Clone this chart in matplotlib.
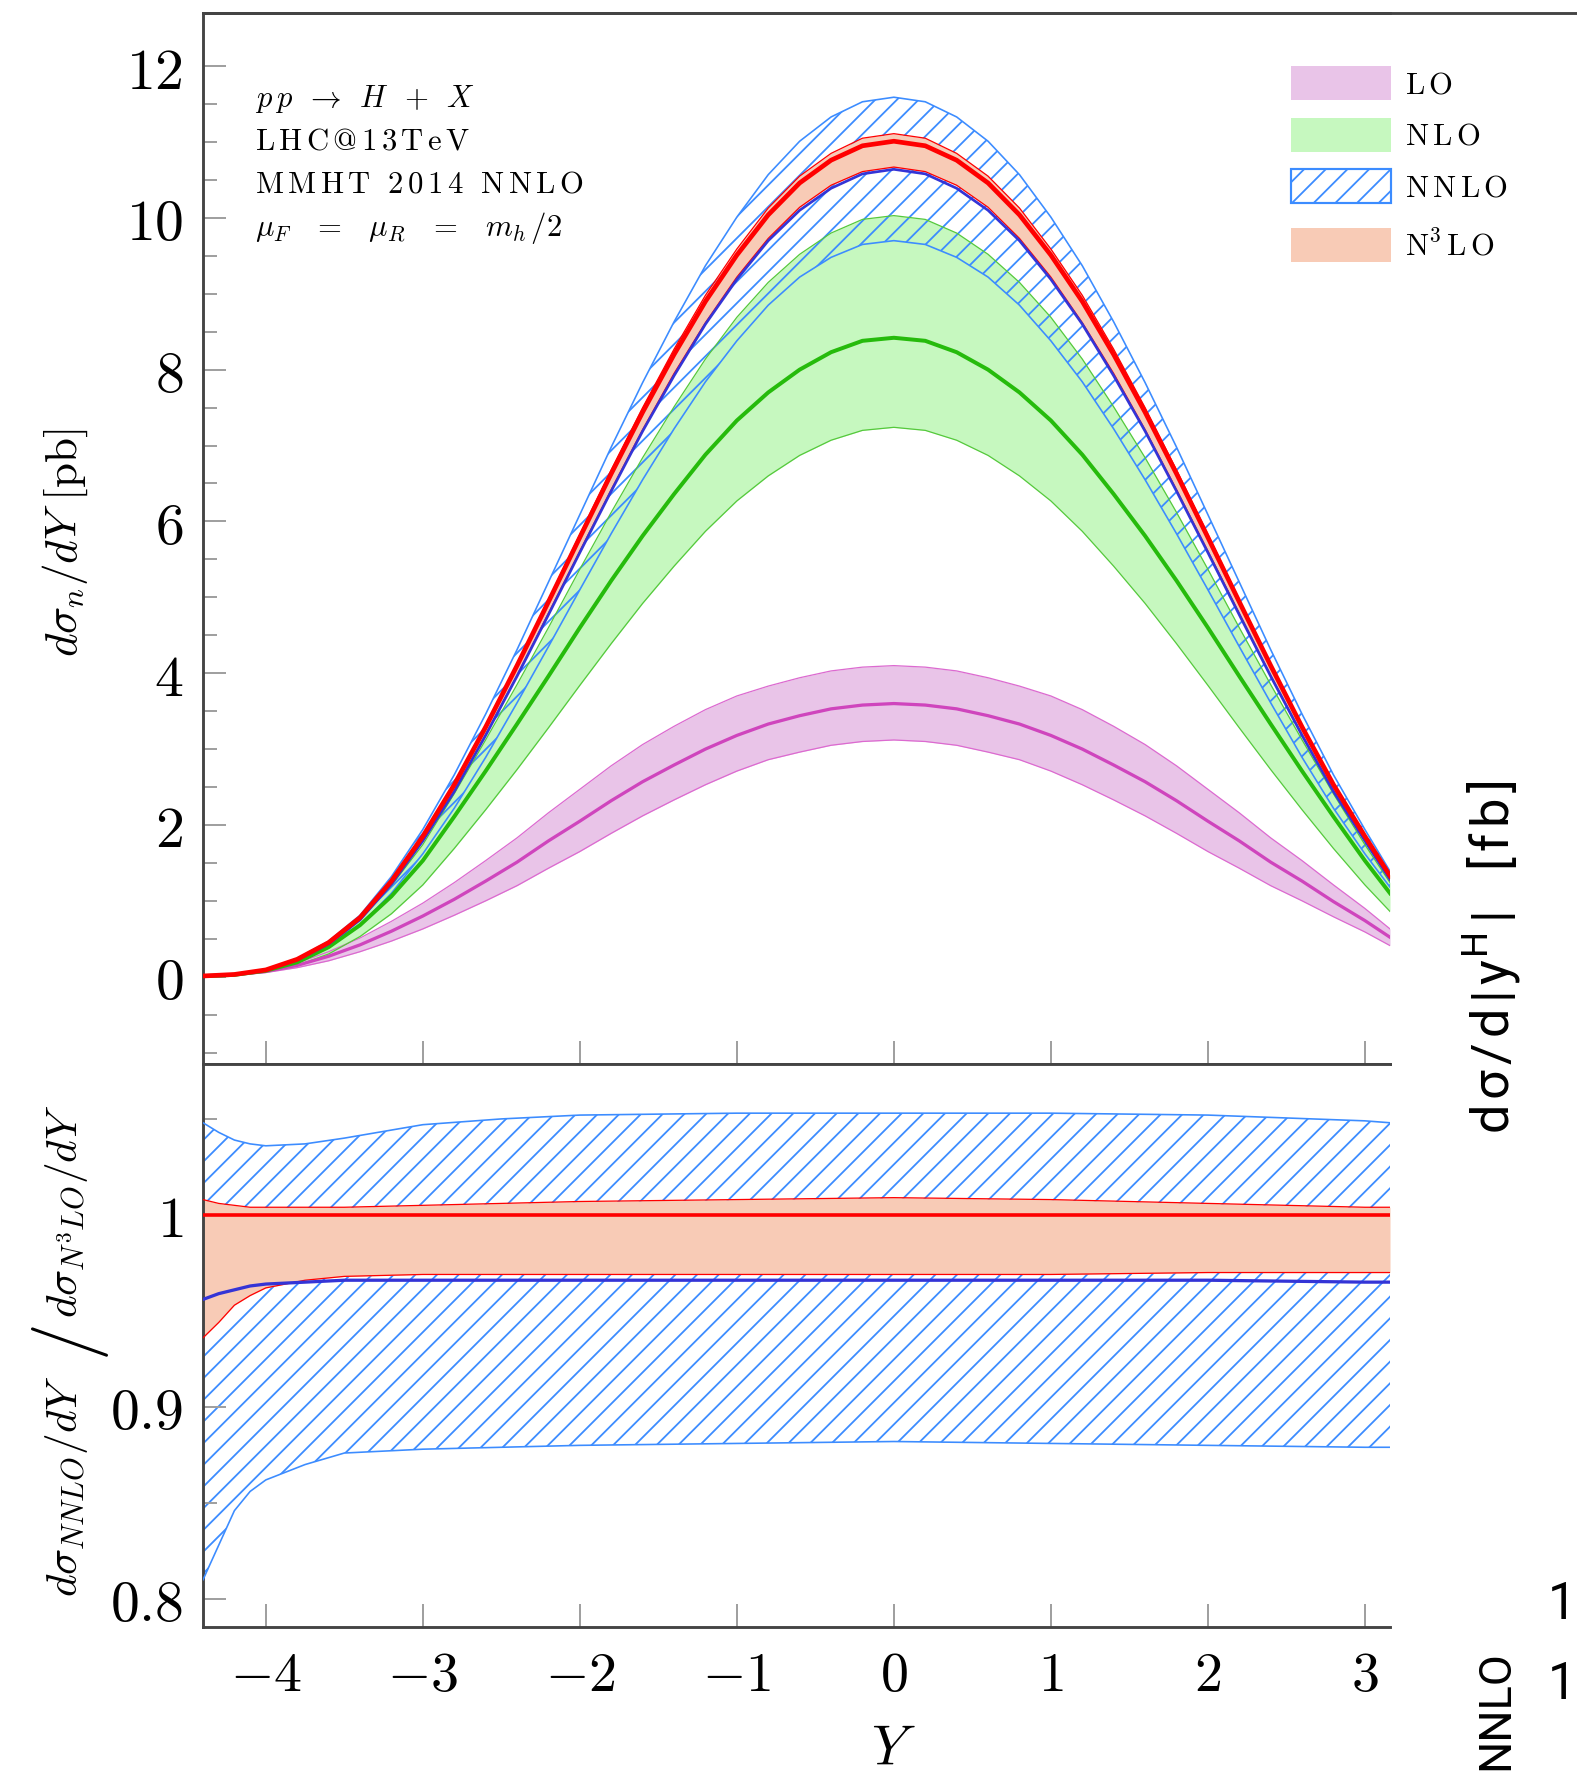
import matplotlib.pyplot as plt
from matplotlib.patches import Patch
from matplotlib.lines import Line2D

plt.rcParams['mathtext.fontset'] = 'cm'
plt.rcParams['hatch.linewidth'] = 1.0
plt.rcParams['hatch.color'] = '#3c8cff'

# ---- upper panel: d sigma / dY [pb] ----
y_top = [-4.4, -4.2, -4.0, -3.8, -3.6, -3.4, -3.2, -3.0, -2.8, -2.6, -2.4, -2.2, -2.0, -1.8, -1.6, -1.4,
         -1.2, -1.0, -0.8, -0.6, -0.4, -0.2, 0.0, 0.2, 0.4, 0.6, 0.8, 1.0, 1.2, 1.4, 1.6, 1.8, 2.0, 2.2,
         2.4, 2.6, 2.8, 3.0, 3.16]

lo_c = [0.006, 0.025, 0.07, 0.15, 0.27, 0.42, 0.60, 0.80, 1.02, 1.26, 1.51, 1.79, 2.05, 2.32, 2.57, 2.79,
        3.00, 3.18, 3.33, 3.44, 3.53, 3.58, 3.60, 3.58, 3.53, 3.44, 3.33, 3.18, 3.00, 2.79, 2.57, 2.32,
        2.05, 1.79, 1.51, 1.26, 0.99, 0.74, 0.52]
lo_up = [0.007, 0.03, 0.085, 0.18, 0.33, 0.51, 0.73, 0.97, 1.24, 1.53, 1.83, 2.16, 2.47, 2.78, 3.06, 3.30,
         3.52, 3.70, 3.83, 3.94, 4.03, 4.08, 4.10, 4.08, 4.03, 3.94, 3.83, 3.70, 3.52, 3.30, 3.06, 2.78,
         2.47, 2.16, 1.83, 1.53, 1.21, 0.90, 0.63]
lo_lo = [0.005, 0.02, 0.055, 0.12, 0.21, 0.33, 0.47, 0.63, 0.81, 1.00, 1.20, 1.43, 1.65, 1.89, 2.12, 2.33,
         2.53, 2.71, 2.86, 2.96, 3.05, 3.10, 3.12, 3.10, 3.05, 2.96, 2.86, 2.71, 2.53, 2.33, 2.12, 1.89,
         1.65, 1.43, 1.20, 1.00, 0.79, 0.59, 0.41]

nlo_c = [0.008, 0.025, 0.08, 0.19, 0.39, 0.68, 1.06, 1.53, 2.11, 2.71, 3.33, 3.96, 4.60, 5.22, 5.81, 6.36,
         6.88, 7.33, 7.70, 8.00, 8.23, 8.38, 8.42, 8.38, 8.23, 8.00, 7.70, 7.33, 6.88, 6.36, 5.81, 5.22,
         4.60, 3.96, 3.33, 2.71, 2.11, 1.53, 1.10]
nlo_up = [0.009, 0.028, 0.09, 0.21, 0.44, 0.77, 1.20, 1.74, 2.41, 3.12, 3.85, 4.60, 5.37, 6.12, 6.84, 7.51,
          8.14, 8.69, 9.15, 9.52, 9.80, 9.98, 10.03, 9.98, 9.80, 9.52, 9.15, 8.69, 8.14, 7.51, 6.84, 6.12,
          5.37, 4.60, 3.85, 3.12, 2.41, 1.74, 1.24]
nlo_lo = [0.006, 0.02, 0.063, 0.15, 0.30, 0.53, 0.83, 1.21, 1.69, 2.20, 2.73, 3.28, 3.84, 4.39, 4.92, 5.41,
          5.87, 6.27, 6.60, 6.87, 7.07, 7.20, 7.24, 7.20, 7.07, 6.87, 6.60, 6.27, 5.87, 5.41, 4.92, 4.39,
          3.84, 3.28, 2.73, 2.20, 1.69, 1.21, 0.86]

nnlo_c = [0.01, 0.03, 0.086, 0.22, 0.43, 0.75, 1.22, 1.79, 2.44, 3.18, 3.96, 4.77, 5.59, 6.40, 7.19, 7.92,
          8.60, 9.19, 9.70, 10.10, 10.39, 10.58, 10.64, 10.58, 10.39, 10.10, 9.70, 9.19, 8.60, 7.92, 7.19,
          6.40, 5.59, 4.77, 3.96, 3.18, 2.44, 1.79, 1.28]
nnlo_up = [0.01, 0.03, 0.093, 0.24, 0.47, 0.81, 1.32, 1.94, 2.66, 3.46, 4.31, 5.20, 6.09, 6.98, 7.83, 8.63,
           9.37, 10.01, 10.57, 11.01, 11.33, 11.53, 11.59, 11.53, 11.33, 11.01, 10.57, 10.01, 9.37, 8.63,
           7.83, 6.98, 6.09, 5.20, 4.31, 3.46, 2.66, 1.94, 1.39]
nnlo_lo = [0.008, 0.025, 0.077, 0.20, 0.39, 0.68, 1.10, 1.62, 2.22, 2.89, 3.61, 4.35, 5.10, 5.84, 6.55, 7.22,
           7.84, 8.38, 8.85, 9.22, 9.48, 9.65, 9.70, 9.65, 9.48, 9.22, 8.85, 8.38, 7.84, 7.22, 6.55, 5.84,
           5.10, 4.35, 3.61, 2.89, 2.22, 1.62, 1.18]

n3lo_c = [0.01, 0.03, 0.09, 0.23, 0.45, 0.78, 1.26, 1.85, 2.53, 3.29, 4.10, 4.94, 5.79, 6.63, 7.44, 8.20,
          8.90, 9.51, 10.04, 10.46, 10.76, 10.95, 11.01, 10.95, 10.76, 10.46, 10.04, 9.51, 8.90, 8.20, 7.44,
          6.63, 5.79, 4.94, 4.10, 3.29, 2.53, 1.85, 1.33]
n3lo_up = [0.01, 0.03, 0.09, 0.23, 0.45, 0.78, 1.27, 1.86, 2.54, 3.31, 4.12, 4.97, 5.83, 6.68, 7.50, 8.27,
           8.98, 9.59, 10.13, 10.55, 10.85, 11.05, 11.11, 11.05, 10.85, 10.55, 10.13, 9.59, 8.98, 8.27, 7.50,
           6.68, 5.83, 4.97, 4.12, 3.31, 2.54, 1.86, 1.34]
n3lo_lo = [0.01, 0.03, 0.086, 0.22, 0.44, 0.76, 1.22, 1.79, 2.45, 3.19, 3.97, 4.79, 5.61, 6.42, 7.21, 7.95,
           8.62, 9.22, 9.73, 10.14, 10.43, 10.61, 10.67, 10.61, 10.43, 10.14, 9.73, 9.22, 8.62, 7.95, 7.21,
           6.42, 5.61, 4.79, 3.97, 3.19, 2.45, 1.79, 1.29]

# ---- lower panel: NNLO / N3LO ratio ----
y_rat = [-4.4, -4.3, -4.2, -4.1, -4.0, -3.75, -3.5, -3.0, -2.5, -2.0, -1.0, 0.0, 1.0, 2.0, 3.0, 3.16]
r_nnlo_up = [1.048, 1.043, 1.039, 1.037, 1.036, 1.037, 1.040, 1.047, 1.050, 1.052, 1.053, 1.053, 1.053, 1.052, 1.049, 1.048]
r_nnlo_c = [0.956, 0.959, 0.961, 0.963, 0.964, 0.965, 0.966, 0.966, 0.966, 0.966, 0.966, 0.966, 0.966, 0.966, 0.965, 0.965]
r_nnlo_lo = [0.810, 0.828, 0.846, 0.856, 0.862, 0.870, 0.876, 0.878, 0.879, 0.880, 0.881, 0.882, 0.881, 0.880, 0.879, 0.879]
r_n3lo_up = [1.008, 1.006, 1.005, 1.004, 1.004, 1.004, 1.004, 1.005, 1.006, 1.007, 1.008, 1.009, 1.008, 1.006, 1.004, 1.004]
r_n3lo_c = [1.0, 1.0, 1.0, 1.0, 1.0, 1.0, 1.0, 1.0, 1.0, 1.0, 1.0, 1.0, 1.0, 1.0, 1.0, 1.0]
r_n3lo_lo = [0.936, 0.944, 0.953, 0.958, 0.962, 0.966, 0.968, 0.969, 0.969, 0.969, 0.969, 0.969, 0.969, 0.970, 0.970, 0.970]

x_ticks = [-4, -3, -2, -1, 0, 1, 2, 3]
top_yticks = [0, 2, 4, 6, 8, 10, 12]
rat_yticks = [0.8, 0.9, 1]
rat_ylabels = ['0.8', '0.9', '1']
leg_labels = [r'L\,O', r'N\,L\,O', r'N\,N\,L\,O', r'N^{3}\,L\,O']
info_lines = [r'$p\,p\ \,\rightarrow\ \,H\ \,+\ \,X$',
              r'$\mathrm{L\,H\,C\,@\,1\,3\,T\,e\,V}$',
              r'$\mathrm{M\,M\,H\,T\ \ 2\,0\,1\,4\ \ N\,N\,L\,O}$',
              r'$\mu_{F}\ \ \,=\ \ \,\mu_{R}\ \ \,=\ \ \,m_{h}\,/2$']

# colours
c_lo_fill, c_lo_line, c_lo_edge = '#e9c4e8', '#cf45bd', '#dc6ad0'
c_nlo_fill, c_nlo_line, c_nlo_edge = '#c6f8bf', '#26bb0c', '#55c93c'
c_blue, c_nnlo_line = '#3c8cff', '#3434d6'
c_n3lo_fill, c_red = '#f8cbb6', '#ff0000'
c_spine, c_tick = '#444444', '#a0a0a0'

DPI = 130
fig = plt.figure(figsize=(1577 / DPI, 1775 / DPI), dpi=DPI)
ax1 = fig.add_axes([0.12873, 0.40056, 0.75270, 0.59212])
ax2 = fig.add_axes([0.12873, 0.08338, 0.75270, 0.31718])

# upper panel
ax1.fill_between(y_top, lo_lo, lo_up, color=c_lo_fill, lw=0, zorder=1)
ax1.fill_between(y_top, nlo_lo, nlo_up, color=c_nlo_fill, lw=0, zorder=2)
ax1.fill_between(y_top, nnlo_lo, nnlo_up, facecolor='none', edgecolor=c_blue, hatch='//', lw=0, zorder=3)
ax1.fill_between(y_top, n3lo_lo, n3lo_up, color=c_n3lo_fill, lw=0, zorder=4)
for arr in (lo_lo, lo_up):
    ax1.plot(y_top, arr, color=c_lo_edge, lw=0.7, zorder=5)
for arr in (nlo_lo, nlo_up):
    ax1.plot(y_top, arr, color=c_nlo_edge, lw=0.7, zorder=5)
for arr in (nnlo_lo, nnlo_up):
    ax1.plot(y_top, arr, color=c_blue, lw=0.9, zorder=5)
for arr in (n3lo_lo, n3lo_up):
    ax1.plot(y_top, arr, color=c_red, lw=0.7, zorder=6)
ax1.plot(y_top, lo_c, color=c_lo_line, lw=1.8, zorder=7)
ax1.plot(y_top, nlo_c, color=c_nlo_line, lw=2.2, zorder=7)
ax1.plot(y_top, nnlo_c, color=c_nnlo_line, lw=1.5, zorder=7)
ax1.plot(y_top, n3lo_c, color=c_red, lw=2.6, zorder=8)

# lower panel
ax2.fill_between(y_rat, r_nnlo_lo, r_nnlo_up, facecolor='none', edgecolor=c_blue, hatch='//', lw=0, zorder=1)
ax2.fill_between(y_rat, r_n3lo_lo, r_n3lo_up, color=c_n3lo_fill, lw=0, zorder=2)
for arr in (r_nnlo_lo, r_nnlo_up):
    ax2.plot(y_rat, arr, color=c_blue, lw=0.9, zorder=3)
for arr in (r_n3lo_lo, r_n3lo_up):
    ax2.plot(y_rat, arr, color=c_red, lw=0.7, zorder=4)
ax2.plot(y_rat, r_nnlo_c, color=c_nnlo_line, lw=1.8, zorder=5)
ax2.plot(y_rat, r_n3lo_c, color=c_red, lw=2.0, zorder=6)

ax1.set_xlim(-4.4, 3.16)
ax2.set_xlim(-4.4, 3.16)
ax1.set_ylim(-1.15, 12.7)
ax2.set_ylim(0.7854, 1.0786)

for ax in (ax1, ax2):
    ax.spines['right'].set_visible(False)
    for s in ('left', 'top', 'bottom'):
        ax.spines[s].set_color(c_spine)
        ax.spines[s].set_linewidth(1.6)
    ax.set_xticks(x_ticks)
    ax.tick_params(axis='both', which='both', direction='in', color=c_tick, width=1.1, labelsize=31, pad=11)
    ax.tick_params(axis='y', labelsize=32)
    ax.tick_params(axis='x', which='major', length=12.5, top=False)
    ax.tick_params(axis='y', which='major', length=13, right=False)
    ax.tick_params(axis='y', which='minor', length=8, right=False)

ax1.set_xticklabels([])
ax2.set_xticklabels(['$%d$' % v for v in x_ticks])
ax2.tick_params(axis='x', pad=12)
ax1.set_yticks(top_yticks)
ax1.set_yticklabels(['$%d$' % v for v in top_yticks])
ax1.set_yticks([v * 0.5 for v in range(-2, 25) if v % 4 != 0], minor=True)
ax2.set_yticks(rat_yticks)
ax2.set_yticklabels(['$%s$' % s for s in rat_ylabels])
ax2.set_yticks([0.85, 0.95, 1.05], minor=True)

# axis titles
fig.text(0.0488, 0.694, r'$d\sigma_n/dY\ [\mathrm{pb}]$', fontsize=25, rotation=90,
         rotation_mode='anchor', ha='center', va='baseline')
fig.text(0.0488, 0.1628, r'$d\sigma_{NNLO}/dY$', fontsize=24, rotation=90,
         rotation_mode='anchor', ha='center', va='baseline')
fig.text(0.0444, 0.2432, '$/$', fontsize=42, rotation=90, ha='center', va='center')
fig.text(0.0488, 0.3178, r'$d\sigma_{N^3LO}/dY$', fontsize=24, rotation=90,
         rotation_mode='anchor', ha='center', va='baseline')
ax2.set_xlabel('$Y$', fontsize=31)
ax2.xaxis.set_label_coords(0.582, -0.170)

for i, s in enumerate(info_lines):
    ax1.text(0.0438, 0.9106 - i * 0.0409, s, transform=ax1.transAxes, fontsize=17, va='baseline', ha='left')

handles = [Patch(facecolor=c_lo_fill, edgecolor='none'),
           Patch(facecolor=c_nlo_fill, edgecolor='none'),
           Patch(facecolor='white', edgecolor=c_blue, hatch='//', lw=1.2),
           Patch(facecolor=c_n3lo_fill, edgecolor='none')]
labels = ['$\\mathrm{%s}$' % s for s in leg_labels]
leg_kw = dict(loc='upper left', frameon=False, fontsize=17, borderpad=0, borderaxespad=0,
              handlelength=3.26, handleheight=1.33, handletextpad=0.45, labelspacing=0.57)
fig.legend(handles[:3], labels[:3], bbox_to_anchor=(0.8186, 0.9628), **leg_kw)
# the N3LO entry sits a little lower, as its superscript makes the row taller
fig.legend(handles[3:], labels[3:], bbox_to_anchor=(0.8186, 0.8718), **leg_kw)

# top frame runs on to the edge of the image
fig.add_artist(Line2D([0.12873, 1.0], [0.99268, 0.99268], transform=fig.transFigure, color=c_spine, lw=1.6))

# fragments of the neighbouring panel
hs = '\u200a'
fig.text(1492 / 1577, 1 - 957 / 1775, hs.join('d\u03c3/d|y') + '$^\\mathregular{H}$' + hs + '|' + '   ' +
         hs.join('[fb]'), rotation=90, fontsize=29, family=['Roboto', 'DejaVu Sans'], ha='center', va='center')
fig.text(1562 / 1577, 1 - 1605 / 1775, '1', fontsize=28, family='Roboto', ha='center', va='center')
fig.text(1562 / 1577, 1 - 1685 / 1775, '1', fontsize=28, family='Roboto', ha='center', va='center')
fig.text(1496 / 1577, 1 - 1770 / 1775, 'NNLO', rotation=90, fontsize=25, family='Roboto', ha='center',
         va='bottom')

fig.savefig('out.png', dpi=DPI)
